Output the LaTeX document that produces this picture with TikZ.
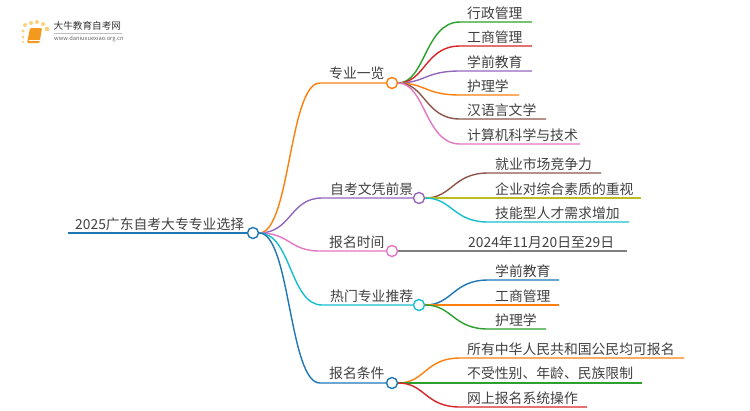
\documentclass[tikz,border=0pt]{standalone}
\usepackage{fontspec}
\setmainfont{Noto Sans CJK SC}
\definecolor{tgreen}{HTML}{2CA02C}
\definecolor{tred}{HTML}{D62728}
\definecolor{tpurple}{HTML}{9467BD}
\definecolor{torange}{HTML}{FF7F0E}
\definecolor{tbrown}{HTML}{8C564B}
\definecolor{tpink}{HTML}{E377C2}
\definecolor{tolive}{HTML}{BCBD22}
\definecolor{tcyan}{HTML}{17BECF}
\definecolor{tgray}{HTML}{7F7F7F}
\definecolor{tblue}{HTML}{1F77B4}
\definecolor{tbook}{HTML}{F39A1E}
\definecolor{tdot}{HTML}{FAD27A}
\tikzset{
	hub/.style={circle, draw, fill=white, line width=1.2pt, inner sep=0pt, minimum size=0.33cm},
	branch/.style={line width=1.2pt}
}
\begin{document}
\begin{tikzpicture}[x=0.03cm, y=-0.03cm]
	\useasboundingbox (0,0) rectangle (750,410);

	% logo
	\fill[tdot] (23,42) circle (1.2) (23,37) circle (1.5) (23,31) circle (1.7) (25,25) circle (2);
	\fill[tdot] (31,23) circle (2) (37,22) circle (2) (43,24) circle (2) (47,29) circle (2.3);
	\fill[tbook, rounded corners=1] (30,28) -- (42,28) -- (39.5,43) -- (27,43) -- cycle;
	\draw[white, line width=0.3pt] (28.5,40) -- (40,40);
	\begin{scope}[every node/.style={anchor=west, inner sep=0pt, text=black!80}]
		\node[font=\fontsize{8.2pt}{9pt}\selectfont] (logoname) at (53.5,26) {大牛教育自考网};
		\node[font=\fontsize{4.9pt}{6pt}\selectfont, text=black!60] (logourl) at (54,38.5) {www.daniuxuexiao.org.cn};
	\end{scope}
	\draw[black!25, line width=0.4pt] (54,33) -- (122,33);

	\begin{scope}[every node/.style={hub}]
		\node[draw=tblue] (root) at (253,233) {};
		\node[draw=torange] (major) at (392,83) {};
		\node[draw=tpurple] (future) at (419,198) {};
		\node[draw=tpink] (time) at (392,251) {};
		\node[draw=tcyan] (hot) at (419,305) {};
		\node[draw=tblue] (cond) at (392,383) {};
	\end{scope}

	\begin{scope}[every node/.style={anchor=west, inner sep=0pt, text=black!75, font=\fontsize{11.8pt}{14pt}\selectfont}]
		\node (roottext) at (75,224) {2025广东自考大专专业选择};
		\node (majortext) at (329,73) {专业一览};
		\node (futuretext) at (330,189) {自考文凭前景};
		\node (timetext) at (329,242) {报名时间};
		\node (hottext) at (330,296) {热门专业推荐};
		\node (condtext) at (329,373) {报名条件};

		\node (m1) at (467,13) {行政管理};
		\node (m2) at (467,37) {工商管理};
		\node (m3) at (467,62) {学前教育};
		\node (m4) at (467,86) {护理学};
		\node (m5) at (467,110) {汉语言文学};
		\node (m6) at (467,135) {计算机科学与技术};

		\node (f1) at (495,164) {就业市场竞争力};
		\node (f2) at (495,189) {企业对综合素质的重视};
		\node (f3) at (495,213) {技能型人才需求增加};

		\node (t1) at (468,242) {2024年11月20日至29日};

		\node (h1) at (495,271) {学前教育};
		\node (h2) at (495,296) {工商管理};
		\node (h3) at (495,320) {护理学};

		\node (c1) at (467,349) {所有中华人民共和国公民均可报名};
		\node (c2) at (467,373) {不受性别、年龄、民族限制};
		\node (c3) at (467,398) {网上报名系统操作};
	\end{scope}

	% free ends of the underlines
	\coordinate (rootstart) at (68,233);
	\coordinate (majorl) at (320,83);
	\coordinate (futurel) at (322,198);
	\coordinate (timel) at (320,251);
	\coordinate (hotl) at (322,305);
	\coordinate (condl) at (320,383);

	\draw[branch, tblue, line width=1.6pt] (rootstart) -- (root);
	\draw[branch, torange] (root.east) .. controls +(31,0) and +(-31,0) .. (majorl) -- (major);
	\draw[branch, tpurple] (root.east) .. controls +(32,0) and +(-32,0) .. (futurel) -- (future);
	\draw[branch, tpink] (root.east) .. controls +(31,0) and +(-31,0) .. (timel) -- (time);
	\draw[branch, tcyan] (root.east) .. controls +(32,0) and +(-32,0) .. (hotl) -- (hot);
	\draw[branch, tblue] (root.east) .. controls +(31,0) and +(-31,0) .. (condl) -- (cond);

	\draw[branch, tgreen] (major.east) .. controls +(27,0) and +(-35,0) .. (460,22) -- (532,22);
	\draw[branch, tred] (major.east) .. controls +(27,0) and +(-35,0) .. (460,46) -- (532,46);
	\draw[branch, tpurple] (major.east) .. controls +(27,0) and +(-35,0) .. (460,71) -- (532,71);
	\draw[branch, torange] (major.east) .. controls +(27,0) and +(-35,0) .. (460,95) -- (519,95);
	\draw[branch, tbrown] (major.east) .. controls +(27,0) and +(-35,0) .. (460,119) -- (546,119);
	\draw[branch, tpink] (major.east) .. controls +(27,0) and +(-35,0) .. (460,144) -- (580,144);

	\draw[branch, tbrown] (future.east) .. controls +(27,0) and +(-35,0) .. (488,173) -- (601,173);
	\draw[branch, tolive] (future.east) -- (641,198);
	\draw[branch, tcyan] (future.east) .. controls +(27,0) and +(-35,0) .. (488,222) -- (629,222);

	\draw[branch, tgray] (time.east) -- (627,251);

	\draw[branch, tblue] (hot.east) .. controls +(27,0) and +(-35,0) .. (488,280) -- (559,280);
	\draw[branch, torange] (hot.east) -- (559,305);
	\draw[branch, tgreen] (hot.east) .. controls +(27,0) and +(-35,0) .. (488,329) -- (546,329);

	\draw[branch, torange] (cond.east) .. controls +(27,0) and +(-35,0) .. (460,358) -- (684,358);
	\draw[branch, tgreen] (cond.east) -- (642,383);
	\draw[branch, tred] (cond.east) .. controls +(27,0) and +(-35,0) .. (460,407) -- (587,407);
\end{tikzpicture}
\end{document}
